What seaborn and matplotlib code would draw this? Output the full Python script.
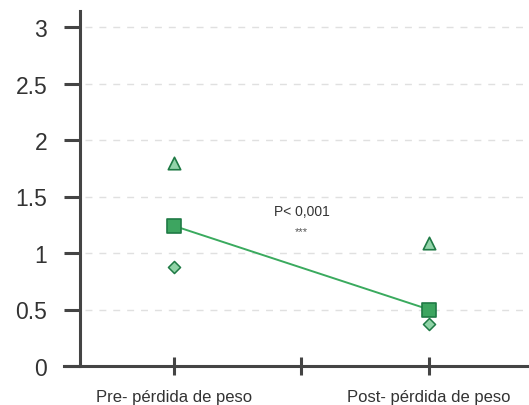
import matplotlib
matplotlib.use("Agg")
import matplotlib.pyplot as plt
import seaborn as sns
import pandas as pd

categories = ["Pre- pérdida de peso", "Post- pérdida de peso"]
mean_vals = [1.24, 0.50]
upper_vals = [1.80, 1.09]
lower_vals = [0.88, 0.37]
y_ticks = [0, 0.5, 1, 1.5, 2, 2.5, 3]
y_tick_labels = ["0", "0.5", "1", "1.5", "2", "2.5", "3"]
annot_text = "P< 0,001"
annot_stars = "***"

sns.set_style("white")
plt.rcParams['font.family'] = ['Liberation Sans', 'DejaVu Sans']

df = pd.DataFrame({"x": [0, 1], "mean": mean_vals, "upper": upper_vals, "lower": lower_vals})

fig = plt.figure(figsize=(5.29, 4.06), dpi=100)
ax = fig.add_axes([64/529, 1 - 367/406, 1 - 64/529, (367 - 12)/406])

dark = "#1f7a45"
line_c = "#3aaa5e"
sns.lineplot(data=df, x="x", y="mean", ax=ax, color=line_c, linewidth=1.4, zorder=3)
sns.scatterplot(data=df, x="x", y="mean", ax=ax, marker="s", s=110, color="#3da560",
                edgecolor=dark, linewidth=1.2, zorder=4)
sns.scatterplot(data=df, x="x", y="upper", ax=ax, marker="^", s=80, color="#93d4aa",
                edgecolor=dark, linewidth=1.2, zorder=4)
sns.scatterplot(data=df, x="x", y="lower", ax=ax, marker="D", s=38, color="#8fd3a6",
                edgecolor=dark, linewidth=1.1, zorder=4)

ax.set_xlim(-0.431, 1.392)
ax.set_ylim(0, 3 + 16/113)
ax.set_xlabel("")
ax.set_ylabel("")

# grid lines
for t in y_ticks[1:]:
    ax.axhline(t, xmin=0.045, xmax=1, color="#e0e0e0", linewidth=1, linestyle=(0, (5, 5)), zorder=1)

spine_c = "#444444"
for s in ["top", "right"]:
    ax.spines[s].set_visible(False)
ax.spines["left"].set_position(("data", -0.369))
ax.spines["left"].set_color(spine_c)
ax.spines["left"].set_linewidth(2.2)
ax.spines["bottom"].set_color(spine_c)
ax.spines["bottom"].set_linewidth(2.2)

ax.set_yticks(y_ticks)
ax.set_yticklabels(y_tick_labels)
ax.tick_params(axis="y", direction="out", length=11.5, width=2.2, color=spine_c,
               labelsize=16.5, labelcolor="#333333", pad=12, left=True)
ax.set_xticks([0, 0.5, 1])
ax.set_xticklabels([categories[0], "", categories[1]])
ax.tick_params(axis="x", direction="inout", length=13, width=2.2, color=spine_c,
               labelsize=12, labelcolor="#333333", pad=10, bottom=True)

ax.text(0.5, 1.37, annot_text, ha="center", va="center", fontsize=10, color="#333333")
ax.text(0.5, 1.19, annot_stars, ha="center", va="center", fontsize=8, color="#555555")

fig.savefig("out.png", dpi=100)
